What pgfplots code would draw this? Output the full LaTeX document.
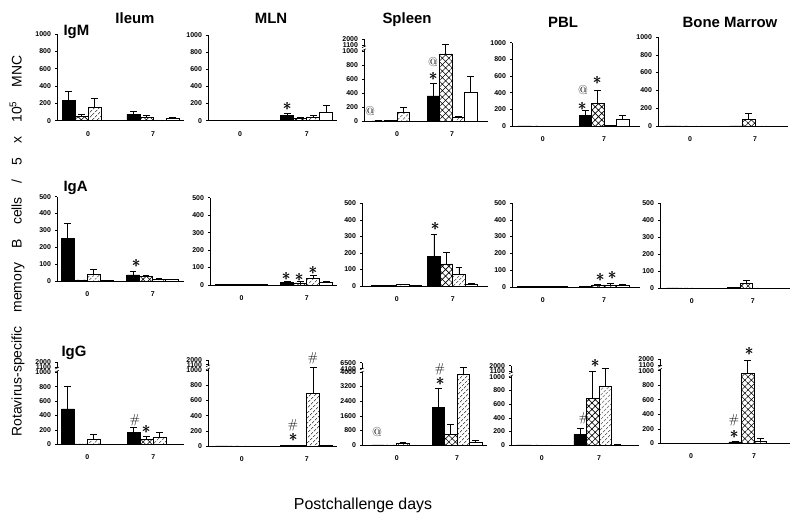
\documentclass[border=0pt]{standalone}
\usepackage{pgfplots}
\pgfplotsset{compat=1.18}
\usepackage{fontspec}
\setsansfont{Liberation Sans}
\usetikzlibrary{patterns.meta}

\newcommand{\tk}{\fontsize{7}{8}\selectfont\sffamily\bfseries}
\newcommand{\brkat}[2]{%
  \fill[white] (#1bp-1.2bp,#2bp-1.3bp) rectangle (#1bp+1.2bp,#2bp+1.3bp);
  \draw[line width=0.5bp] (#1bp-2bp,#2bp-2.4bp) -- (#1bp+2bp,#2bp-0.6bp);
  \draw[line width=0.5bp] (#1bp-2bp,#2bp+0.6bp) -- (#1bp+2bp,#2bp+2.4bp);
}
\newcommand{\astat}[2]{%
  \node[font=\fontsize{16}{16}\selectfont, inner sep=0pt] at (#1bp,#2bp) {$\ast$};
  \node[font=\fontsize{16}{16}\selectfont, inner sep=0pt] at (#1bp+0.4bp,#2bp) {$\ast$};
}

\pgfplotsset{
  panel/.style={
    scale only axis, anchor=south west, clip=false,
    axis x line*=bottom, axis y line*=left,
    axis line style={-, line width=0.6bp, black},
    ymin=0, xtick={0,7}, xticklabels={0,7},
    x tick style={draw=none},
    y tick style={line width=0.5bp, black},
    tick align=outside, major tick length=2bp,
    tick label style={font=\tk},
    xticklabel style={yshift=-5bp},
    yticklabel style={xshift=-0.5bp},
    /pgf/number format/assume math mode=true,
    /pgf/number format/1000 sep={},
    ybar=0pt, bar width=12.5bp,
    error bars/y dir=plus, error bars/y explicit,
    error bars/error bar style={line width=0.6bp, black},
    error bars/error mark options={rotate=90, line width=0.6bp, black, mark size=3.3bp},
  },
  lin1000/.style={ymax=1000, ytick={0,200,400,600,800,1000}},
  lin500/.style={ymax=500, ytick={0,100,200,300,400,500}},
  s1/.style={fill=black, draw=black, line width=0.5bp},
  s2/.style={draw=black, line width=0.5bp, pattern color=black, pattern={Hatch[angle=45,distance=4.6bp,line width=0.6bp]}},
  s3/.style={draw=black, line width=0.5bp, pattern color=black, pattern={Lines[angle=45,distance=3.6bp,line width=0.6bp]}},
  s4/.style={fill=white, draw=black, line width=0.5bp},
}

\begin{document}
\begin{tikzpicture}
\path[use as bounding box] (0,0) rectangle (800bp,520bp);

% ---------------- titles ----------------
\node[anchor=base, font=\fontsize{15}{15}\selectfont\sffamily\bfseries] at (135bp,496bp) {Ileum};
\node[anchor=base, font=\fontsize{15}{15}\selectfont\sffamily\bfseries] at (271bp,496bp) {MLN};
\node[anchor=base, font=\fontsize{15}{15}\selectfont\sffamily\bfseries] at (407bp,496.5bp) {Spleen};
\node[anchor=base, font=\fontsize{15}{15}\selectfont\sffamily\bfseries] at (563bp,492.7bp) {PBL};
\node[anchor=base, font=\fontsize{15}{15}\selectfont\sffamily\bfseries] at (730bp,492.7bp) {Bone Marrow};
\node[anchor=base west, font=\fontsize{15}{15}\selectfont\sffamily\bfseries] at (60bp,484bp) {IgM};
\node[anchor=base west, font=\fontsize{15}{15}\selectfont\sffamily\bfseries] at (60bp,328.3bp) {IgA};
\node[anchor=base west, font=\fontsize{15}{15}\selectfont\sffamily\bfseries] at (58bp,163.3bp) {IgG};
\node[rotate=90, font=\fontsize{14}{14}\selectfont\sffamily] at (17bp,274bp) {Rotavirus-specific\quad memory\quad B\quad cells\quad /\quad 5\quad x\quad 10\textsuperscript{5}\quad MNC};
\node[font=\fontsize{16}{16}\selectfont\sffamily] at (363bp,15bp) {Postchallenge days};

% ================= IgM =================
\begin{axis}[panel, at={(57bp,399.3bp)}, width=127bp, height=86.7bp, xmin=-3.34, xmax=10.34, bar width=13bp, lin1000]
\addplot[s1] coordinates {(0,231) +- (0,104) (7,73) +- (0,39)};
\addplot[s2] coordinates {(0,46) +- (0,31) (7,38) +- (0,24)};
\addplot[s3] coordinates {(0,154) +- (0,104) (7,3) +- (0,0)};
\addplot[s4] coordinates {(0,2) +- (0,0) (7,25) +- (0,18)};
\end{axis}

\begin{axis}[panel, at={(208bp,399.3bp)}, width=129bp, height=85.7bp, xmin=-3.36, xmax=10.18, bar width=13bp, lin1000]
\addplot[s1] coordinates {(0,3) +- (0,0) (7,58) +- (0,27)};
\addplot[s2] coordinates {(0,2) +- (0,0) (7,27) +- (0,11)};
\addplot[s3] coordinates {(0,2) +- (0,0) (7,46) +- (0,19)};
\addplot[s4] coordinates {(0,2) +- (0,0) (7,96) +- (0,81)};
\end{axis}

\begin{axis}[panel, at={(364bp,399bp)}, width=124bp, height=82bp, xmin=-4.2, xmax=11.58, ymax=1171,
  ytick={0,200,400,600,800,1000,1077,1171}, yticklabels={0,200,400,600,800,1000,1100,2000}]
\addplot[s1] coordinates {(0,3) +- (0,0) (7,359) +- (0,186)};
\addplot[s2] coordinates {(0,5) +- (0,0) (7,957) +- (0,139)};
\addplot[s3] coordinates {(0,129) +- (0,72) (7,57) +- (0,10)};
\addplot[s4] coordinates {(0,2) +- (0,0) (7,407) +- (0,225)};
\end{axis}

\begin{axis}[panel, at={(512bp,394bp)}, width=128bp, height=83.3bp, xmin=-3.51, xmax=11.11, lin1000]
\addplot[s1] coordinates {(0,2) +- (0,0) (7,130) +- (0,60)};
\addplot[s2] coordinates {(0,2) +- (0,0) (7,275) +- (0,158)};
\addplot[s3] coordinates {(0,2) +- (0,0) (7,5) +- (0,0)};
\addplot[s4] coordinates {(0,2) +- (0,0) (7,81) +- (0,49)};
\end{axis}

\begin{axis}[panel, at={(658bp,394bp)}, width=130bp, height=89bp, xmin=-3.45, xmax=10.55, lin1000]
\addplot[s1] coordinates {(0,2) +- (0,0) (7,2) +- (0,0)};
\addplot[s2] coordinates {(0,2) +- (0,0) (7,78) +- (0,64)};
\addplot[s3] coordinates {(0,2) +- (0,0) (7,2) +- (0,0)};
\addplot[s4] coordinates {(0,2) +- (0,0) (7,2) +- (0,0)};
\end{axis}

% ================= IgA =================
\begin{axis}[panel, at={(57bp,239bp)}, width=127bp, height=84.3bp, xmin=-3.24, xmax=10.35, bar width=13bp, lin500]
\addplot[s1] coordinates {(0,253) +- (0,89) (7,36) +- (0,23)};
\addplot[s2] coordinates {(0,6) +- (0,0) (7,26) +- (0,10)};
\addplot[s3] coordinates {(0,41) +- (0,30) (7,10) +- (0,6)};
\addplot[s4] coordinates {(0,2) +- (0,0) (7,8) +- (0,0)};
\end{axis}

\begin{axis}[panel, at={(210bp,235bp)}, width=127bp, height=87.3bp, xmin=-3.41, xmax=10.26, bar width=13bp, lin500]
\addplot[s1] coordinates {(0,2) +- (0,0) (7,14) +- (0,6)};
\addplot[s2] coordinates {(0,2) +- (0,0) (7,12) +- (0,8)};
\addplot[s3] coordinates {(0,2) +- (0,0) (7,40) +- (0,16)};
\addplot[s4] coordinates {(0,2) +- (0,0) (7,16) +- (0,4)};
\end{axis}

\begin{axis}[panel, at={(362bp,234bp)}, width=126bp, height=82.7bp, xmin=-4.34, xmax=11.41, lin500]
\addplot[s1] coordinates {(0,2) +- (0,0) (7,181) +- (0,131)};
\addplot[s2] coordinates {(0,2) +- (0,0) (7,133) +- (0,71)};
\addplot[s3] coordinates {(0,8) +- (0,2) (7,71) +- (0,42)};
\addplot[s4] coordinates {(0,3) +- (0,0) (7,12) +- (0,4)};
\end{axis}

\begin{axis}[panel, at={(512bp,233bp)}, width=128bp, height=84bp, xmin=-3.51, xmax=11.11, lin500]
\addplot[s1] coordinates {(0,2) +- (0,0) (7,3) +- (0,0)};
\addplot[s2] coordinates {(0,2) +- (0,0) (7,12) +- (0,6)};
\addplot[s3] coordinates {(0,2) +- (0,0) (7,12) +- (0,8)};
\addplot[s4] coordinates {(0,2) +- (0,0) (7,10) +- (0,4)};
\end{axis}

\begin{axis}[panel, at={(660bp,232bp)}, width=130bp, height=85bp, xmin=-3.64, xmax=11.28, lin500]
\addplot[s1] coordinates {(0,1) +- (0,0) (7,2) +- (0,0)};
\addplot[s2] coordinates {(0,1) +- (0,0) (7,25) +- (0,20)};
\addplot[s3] coordinates {(0,1) +- (0,0) (7,1) +- (0,0)};
\addplot[s4] coordinates {(0,1) +- (0,0) (7,1) +- (0,0)};
\end{axis}

% ================= IgG =================
\begin{axis}[panel, at={(57bp,75.7bp)}, width=127bp, height=82bp, xmin=-3.21, xmax=10.26, bar width=13bp, ymax=1139,
  ytick={0,200,400,600,800,1000,1074,1139}, yticklabels={0,200,400,600,800,1000,1100,2000}]
\addplot[s1] coordinates {(0,492) +- (0,317) (7,166) +- (0,68)};
\addplot[s2] coordinates {(0,5) +- (0,0) (7,74) +- (0,41)};
\addplot[s3] coordinates {(0,74) +- (0,64) (7,97) +- (0,64)};
\addplot[s4] coordinates {(0,2) +- (0,0) (7,3) +- (0,0)};
\end{axis}

\begin{axis}[panel, at={(208bp,74bp)}, width=129bp, height=86bp, xmin=-3.63, xmax=10.26, bar width=13bp, ymax=1132,
  ytick={0,200,400,600,800,1000,1070,1132}, yticklabels={0,200,400,600,800,1000,1100,2000}]
\addplot[s1] coordinates {(0,2) +- (0,0) (7,10) +- (0,0)};
\addplot[s2] coordinates {(0,2) +- (0,0) (7,10) +- (0,0)};
\addplot[s3] coordinates {(0,2) +- (0,0) (7,693) +- (0,343)};
\addplot[s4] coordinates {(0,2) +- (0,0) (7,5) +- (0,0)};
\end{axis}

\begin{axis}[panel, at={(362bp,75bp)}, width=125bp, height=82.3bp, xmin=-4.03, xmax=10.48, ymax=4510,
  ytick={0,800,1600,2400,3200,4000,4181,4510}, yticklabels={0,800,1600,2400,3200,4000,4100,6500}]
\addplot[s1] coordinates {(0,5) +- (0,0) (7,2073) +- (0,1010)};
\addplot[s2] coordinates {(0,5) +- (0,0) (7,587) +- (0,551)};
\addplot[s3] coordinates {(0,92) +- (0,36) (7,3853) +- (0,422)};
\addplot[s4] coordinates {(0,5) +- (0,0) (7,147) +- (0,110)};
\end{axis}

\begin{axis}[panel, at={(511bp,75bp)}, width=128bp, height=79.3bp, xmin=-3.75, xmax=11.89, ymax=1166,
  ytick={0,200,400,600,800,1000,1080,1166}, yticklabels={0,200,400,600,800,1000,1100,2000}]
\addplot[s1] coordinates {(0,2) +- (0,0) (7,157) +- (0,88)};
\addplot[s2] coordinates {(0,2) +- (0,0) (7,687) +- (0,391)};
\addplot[s3] coordinates {(0,2) +- (0,0) (7,868) +- (0,260)};
\addplot[s4] coordinates {(0,2) +- (0,0) (7,3) +- (0,0)};
\end{axis}

\begin{axis}[panel, at={(660bp,76.7bp)}, width=130bp, height=84bp, xmin=-3.44, xmax=11, ymax=1157,
  ytick={0,200,400,600,800,1000,1080,1157}, yticklabels={0,200,400,600,800,1000,1100,2000}]
\addplot[s1] coordinates {(0,2) +- (0,0) (7,18) +- (0,10)};
\addplot[s2] coordinates {(0,2) +- (0,0) (7,964) +- (0,174)};
\addplot[s3] coordinates {(0,2) +- (0,0) (7,32) +- (0,32)};
\addplot[s4] coordinates {(0,2) +- (0,0) (7,2) +- (0,0)};
\end{axis}

% axis break marks
\brkat{364}{471.8}
\brkat{57}{150.4}
\brkat{208}{152.7}
\brkat{362}{149.6}
\brkat{511}{145.7}
\brkat{660}{152.2}

% significance asterisks
\astat{287}{414}
\astat{433}{443}
\astat{582}{414}
\astat{597}{439}
\astat{136}{257}
\astat{286}{244}
\astat{299}{242.3}
\astat{312.7}{250}
\astat{435}{294}
\astat{600}{243}
\astat{612}{245}
\astat{146}{91}
\astat{293}{83}
\astat{440}{139}
\astat{595}{157}
\astat{734}{86}
\astat{749}{169}

% @ and # annotations
\begin{scope}[every node/.style={font=\fontsize{13}{13}\selectfont, inner sep=0pt}]
\node at (370bp,409bp) {@};
\node at (433bp,458bp) {@};
\node at (583bp,430bp) {@};
\node at (135bp,100bp) {\#};
\node at (293bp,95bp) {\#};
\node at (313bp,162bp) {\#};
\node at (377bp,88bp) {@};
\node at (440bp,151bp) {\#};
\node at (584bp,102bp) {\#};
\node at (734bp,100bp) {\#};
\end{scope}

\end{tikzpicture}
\end{document}
